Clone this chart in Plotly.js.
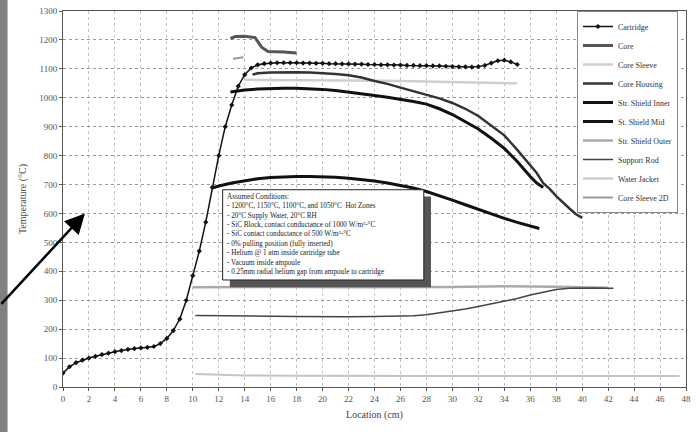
<!DOCTYPE html>
<html>
<head>
<meta charset="utf-8">
<script src="https://cdn.plot.ly/plotly-3.0.1.min.js"></script>
<style>html,body{margin:0;padding:0;background:#fff;}#chart{width:696px;height:432px;}</style>
</head>
<body>
<div id="chart"></div>
<script>
// Cartridge (rising curve then top plateau)
const cartX = [0,0.5,1,1.5,2,2.5,3,3.5,4,4.5,5,5.5,6,6.5,7,7.5,8,8.5,9,9.5,10,10.5,11,11.5,12,12.5,13,13.5,14,14.5,15,15.5,16,16.5,17,17.5,18,18.5,19,19.5,20,20.5,21,21.5,22,22.5,23,23.5,24,24.5,25,25.5,26,26.5,27,27.5,28,28.5,29,29.5,30,30.5,31,31.5,32,32.5,33,33.5,34,34.5,35];
const cartT = [48,70,84,93,100,106,112,117,122,126,130,133,135,137,140,150,168,195,235,300,385,470,570,690,800,900,975,1040,1080,1103,1114,1118,1120,1121,1121,1121,1121,1120,1120,1119,1119,1118,1118,1117,1117,1116,1116,1115,1115,1114,1114,1113,1113,1112,1112,1111,1111,1110,1110,1109,1108,1107,1107,1106,1108,1112,1120,1128,1130,1124,1115];
// Core (hot-zone steps)
const coreX = [12.9,13.3,14,14.8,15.3,15.8,17,18];
const coreT = [1205,1212,1213,1208,1175,1160,1158,1155];
// Core Sleeve
const sleeveX = [14,18,22,26,30,33,35];
const sleeveT = [1062,1062,1060,1058,1055,1052,1050];
// Core Housing
const housingX = [14.6,15,16,17,18,19,20,21,22,23,24,25,26,27,28,29,30,31,32,33,34,35,36,36.5,37,37.5,38,38.5,39,39.5,40];
const housingT = [1080,1085,1087,1088,1088,1087,1085,1082,1078,1070,1058,1048,1035,1022,1010,998,982,962,937,905,870,820,765,740,705,685,660,638,618,598,585];
// Str. Shield Inner
const innerX = [12.9,13.5,14,15,16,17,18,19,20,21,22,23,24,25,26,27,28,29,30,31,32,33,34,35,35.5,36,36.5,37];
const innerT = [1020,1025,1027,1030,1032,1033,1033,1032,1029,1025,1020,1014,1008,1002,995,987,978,962,942,918,892,860,825,780,752,728,705,690];
// St. Shield Mid
const midX = [11.5,12,13,14,15,16,17,18,19,20,21,22,23,24,25,26,27,28,29,30,31,32,33,34,35,36,36.7];
const midT = [688,695,705,713,720,724,727,728,728,727,725,722,718,712,705,697,688,676,662,646,630,614,598,583,569,556,548];
// Str. Shield Outer
const outerX = [10,14,18,22,26,30,34,37,38,40,42];
const outerT = [345,346,346,345,345,346,348,348,347,345,343];
// Support Rod
const rodX = [10.2,12,14,16,18,20,22,24,26,27,28,29,30,31,32,33,34,35,36,37,38,39,40,41,42,42.4];
const rodT = [247,247,246,245,244,243,243,244,245,246,250,256,263,270,278,287,296,306,318,328,337,341,342,342,341,341];
// Water Jacket
const waterX = [10.2,12,14,18,22,26,30,34,38,42,46,47.5];
const waterT = [45,42,40,39,38,38,38,38,38,38,38,38];
// Core Sleeve 2D
const sleeve2X = [13.1,13.9];
const sleeve2T = [1135,1140];

const xTicks = [0,2,4,6,8,10,12,14,16,18,20,22,24,26,28,30,32,34,36,38,40,42,44,46,48];
const yTicks = [0,100,200,300,400,500,600,700,800,900,1000,1100,1200,1300];

const noteLines = [
  "Assumed Conditions:",
  "- 1200°C, 1150°C, 1100°C, and 1050°C  Hot Zones",
  "- 20°C Supply Water, 20°C RH",
  "- SiC Block, contact conductance of 1000 W/m²-°C",
  "- SiC contact conductance of 500 W/m²-°C",
  "- 0% pulling position (fully inserted)",
  "- Helium @ 1 atm inside cartridge tube",
  "- Vacuum inside ampoule",
  "- 0.25mm radial helium gap from ampoule to cartridge"
];

const serif = "Liberation Serif, Times New Roman, serif";

const traces = [
  {x: cartX, y: cartT, name: "Cartridge", mode: "lines+markers",
   line: {color: "#111", width: 1.5}, marker: {symbol: "diamond", size: 4, color: "#111"}},
  {x: coreX, y: coreT, name: "Core", mode: "lines", line: {color: "#555", width: 3}},
  {x: sleeveX, y: sleeveT, name: "Core Sleeve", mode: "lines", line: {color: "#cfcfcf", width: 2.5}},
  {x: housingX, y: housingT, name: "Core Housing", mode: "lines", line: {color: "#333", width: 2.5}},
  {x: innerX, y: innerT, name: "Str. Shield Inner", mode: "lines", line: {color: "#111", width: 3}},
  {x: midX, y: midT, name: "St. Shield Mid", mode: "lines", line: {color: "#111", width: 3}},
  {x: outerX, y: outerT, name: "Str. Shield Outer", mode: "lines", line: {color: "#aaa", width: 2.5}},
  {x: rodX, y: rodT, name: "Support Rod", mode: "lines", line: {color: "#444", width: 1.5}},
  {x: waterX, y: waterT, name: "Water Jacket", mode: "lines", line: {color: "#c4c4c4", width: 2}},
  {x: sleeve2X, y: sleeve2T, name: "Core Sleeve 2D", mode: "lines", line: {color: "#999", width: 2}}
];

const layout = {
  width: 696, height: 432,
  margin: {l: 63, r: 10, t: 11, b: 45},
  paper_bgcolor: "#fff", plot_bgcolor: "#fff",
  font: {family: serif, size: 9, color: "#444"},
  showlegend: true,
  legend: {x: 0.825, y: 1.0, xanchor: "left", yanchor: "top",
    bgcolor: "#fff", bordercolor: "#888", borderwidth: 1,
    font: {family: serif, size: 8, color: "#333"}, itemwidth: 30},
  xaxis: {range: [0, 48], tickvals: xTicks, ticktext: xTicks.map(String),
    showgrid: true, gridcolor: "#c4c4c4", griddash: "dot", gridwidth: 1,
    zeroline: false, showline: true, mirror: true, linecolor: "#555", linewidth: 1,
    ticks: "outside", ticklen: 3, tickcolor: "#555",
    tickfont: {family: serif, size: 9, color: "#555"},
    title: {text: "Location (cm)", font: {family: serif, size: 10, color: "#444"}, standoff: 8}},
  yaxis: {range: [0, 1300], tickvals: yTicks, ticktext: yTicks.map(String),
    showgrid: true, gridcolor: "#999", griddash: "dot", gridwidth: 1,
    zeroline: false, showline: true, mirror: true, linecolor: "#555", linewidth: 1,
    ticks: "outside", ticklen: 3, tickcolor: "#555",
    tickfont: {family: serif, size: 9, color: "#555"},
    title: {text: "Temperature (°C)", font: {family: serif, size: 10, color: "#444"}, standoff: 10}},
  shapes: [
    // left decorative border stripe
    {type: "rect", xref: "paper", yref: "paper", x0: -0.102, x1: -0.089, y0: -0.13, y1: 1.04,
     fillcolor: "#808080", line: {width: 0}, layer: "above"},
    // note box shadow
    {type: "rect", xref: "x", yref: "y", x0: 12.85, x1: 28.35, y0: 345, y1: 659,
     fillcolor: "#555", line: {width: 0}, layer: "above"},
    // note box
    {type: "rect", xref: "x", yref: "y", x0: 12.3, x1: 27.8, y0: 370, y1: 682,
     fillcolor: "#fff", line: {color: "#222", width: 1}, layer: "above"}
  ],
  annotations: [
    {xref: "x", yref: "y", x: 12.45, y: 678, xanchor: "left", yanchor: "top",
     text: noteLines.join("<br>"), align: "left", showarrow: false,
     font: {family: serif, size: 7.2, color: "#222"}},
    {xref: "x", yref: "y", x: 1.69, y: 600, text: "", showarrow: true,
     arrowhead: 2, arrowsize: 1.6, arrowwidth: 2.5, arrowcolor: "#000",
     axref: "pixel", ayref: "pixel", ax: -88, ay: 92}
  ]
};

Plotly.newPlot("chart", traces, layout, {displayModeBar: false, staticPlot: true});
</script>
</body>
</html>
